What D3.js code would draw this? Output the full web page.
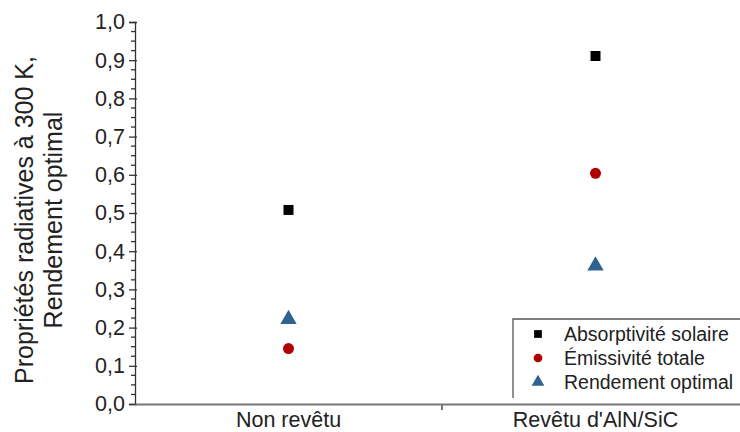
<!DOCTYPE html>
<html><head><meta charset="utf-8">
<script src="https://cdn.jsdelivr.net/npm/d3@7"></script>
<style>body{margin:0;background:#fff;} svg{display:block;font-family:"Liberation Sans",Arial,sans-serif;}</style>
</head><body>
<svg id="chart" width="740" height="432"></svg>
<script>
const categories = ["Non revêtu", "Revêtu d'AlN/SiC"];
const absorptivite = [0.508, 0.911];
const emissivite = [0.145, 0.604];
const rendement = [0.222, 0.362];
const yTicks = [0, 0.1, 0.2, 0.3, 0.4, 0.5, 0.6, 0.7, 0.8, 0.9, 1.0];
const seriesNames = ["Absorptivité solaire", "Émissivité totale", "Rendement optimal"];
const colors = ["#000000", "#b00000", "#2f6290"];
const shapes = [d3.symbolSquare, d3.symbolCircle, d3.symbolTriangle];
const seriesVals = [absorptivite, emissivite, rendement];

const svg = d3.select("#chart");
const x = d3.scaleBand().domain(categories).range([135, 749]).padding(0);
const y = d3.scaleLinear().domain([0, 1]).range([404, 22]);

// minor ticks
const minor = d3.range(0, 1.0001, 0.025).filter(v => Math.abs(v*10 - Math.round(v*10)) > 1e-6);
svg.append("g").selectAll("line").data(minor).join("line")
  .attr("x1", 131).attr("x2", 135)
  .attr("y1", d => y(d)).attr("y2", d => y(d))
  .attr("stroke", "#333").attr("stroke-width", 1.3);

const yAxis = svg.append("g").attr("transform", "translate(135,0)")
  .call(d3.axisLeft(y).tickValues(yTicks).tickSize(6).tickPadding(4)
    .tickFormat(d => d3.format(".1f")(d).replace(".", ",")));
yAxis.select(".domain").attr("stroke", "#333").attr("stroke-width", 1.3);
yAxis.selectAll(".tick line").attr("stroke", "#333").attr("stroke-width", 1.3).attr("x2", -6);
yAxis.selectAll(".tick line").clone().attr("x2", 2);
yAxis.selectAll("text").attr("font-size", 21.5).attr("fill", "#222");

const xAxis = svg.append("g").attr("transform", "translate(0,404)")
  .call(d3.axisBottom(x).tickSize(0));
xAxis.select(".domain").attr("stroke", "#777").attr("stroke-width", 2);
xAxis.selectAll("text").attr("font-size", 21.5).attr("fill", "#222").attr("y", 22.5).attr("dy", 0);
// separator tick between categories
xAxis.append("line").attr("x1", x(categories[1])).attr("x2", x(categories[1]))
  .attr("y1", 0).attr("y2", 6).attr("stroke", "#777").attr("stroke-width", 2);

// y title
const title = svg.append("text")
  .attr("transform", "translate(0,220) rotate(-90)")
  .attr("text-anchor", "middle").attr("font-size", 25).attr("fill", "#222");
title.append("tspan").attr("x", 0).attr("y", 33).text("Propriétés radiatives à 300 K,");
title.append("tspan").attr("x", 0).attr("y", 62).text("Rendement optimal");

// points
const sizes = [100, 95, 115];
seriesVals.forEach((vals, i) => {
  svg.append("g").selectAll("path").data(vals).join("path")
    .attr("transform", (d, j) => `translate(${x(categories[j]) + x.bandwidth()/2},${y(d)})`)
    .attr("d", d3.symbol().type(shapes[i]).size(sizes[i]))
    .attr("fill", colors[i]);
});

// legend
const lg = svg.append("g");
lg.append("path").attr("d", "M745,319 L513,319 L513,398").attr("fill", "none")
  .attr("stroke", "#555").attr("stroke-width", 1.3);
seriesNames.forEach((n, i) => {
  const yy = 334 + i * 24;
  lg.append("path").attr("transform", `translate(538,${yy})`)
    .attr("d", d3.symbol().type(shapes[i]).size(i === 2 ? 70 : 60)).attr("fill", colors[i]);
  lg.append("text").attr("x", 564).attr("y", yy).attr("dy", "0.35em")
    .attr("font-size", 19.5).attr("fill", "#222").text(n);
});
</script>
</body></html>
